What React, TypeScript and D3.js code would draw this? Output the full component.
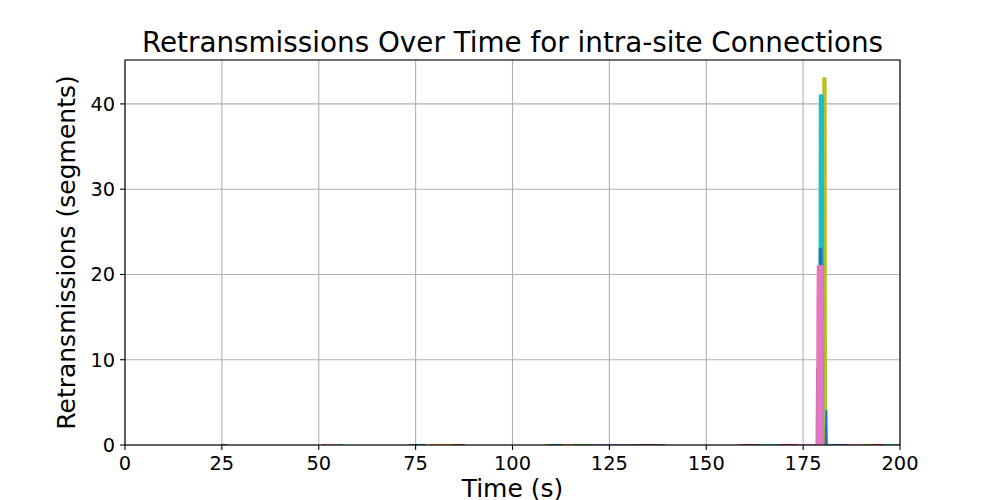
import React from "react";
import * as d3 from "d3";

// ---- data ----
const xTicks = [0, 25, 50, 75, 100, 125, 150, 175, 200];
const yTicks = [0, 10, 20, 30, 40];

// idle connections (zero retransmissions) : start time, end time, colour index
const idleStarts = [24.8, 51, 51.6, 54.6, 73.3, 78.7, 84.4, 108, 109, 113, 115.6, 120.5, 131, 139, 157.7, 159.2, 163.9, 169, 173.7, 181, 185.3, 187, 189.7, 191, 192.8, 196];
const idleEnds = [26.3, 53.7, 54.6, 56.2, 77.7, 84.4, 87.7, 109, 113, 115.6, 120.5, 131, 139, 139.5, 159.2, 163.9, 169, 173.7, 178.7, 185.3, 187, 189.7, 191, 192.8, 196, 200];
const idleColors = [0, 5, 6, 9, 0, 1, 5, 8, 0, 1, 2, 4, 5, 7, 6, 5, 9, 3, 6, 0, 5, 6, 1, 2, 3, 9];

// burst connections sampled every 0.1 s
const sampleStep = 0.1;
const oliveSpike = [0, 43, 0, 43, 6, 43, 0, 43, 0];
const cyanSpike = [0, 41, 0, 41, 12, 41, 0, 41, 3, 41, 0];
const blueSpike = [0, 23, 0, 23, 0, 23, 0];
const greenSpike = [0, 11, 0];
const brownSpike = [0, 9, 0];
const pinkSpike = [0, 17, 21, 0, 21, 3, 21, 0, 21, 8, 21, 0, 21, 5, 21, 0];
const redSpike = [0, 2, 0];
const blueTail = [0, 4, 0];
const spikeSeries = [oliveSpike, cyanSpike, blueSpike, greenSpike, brownSpike, pinkSpike, redSpike, blueTail];
const spikeStarts = [180.1, 179.2, 179.2, 179.9, 178.5, 178.6, 180.8, 180.9];
const spikeColors = [8, 9, 0, 2, 5, 6, 3, 0];

const W = 1000, H = 500;
const M = { left: 125, right: 900, top: 60, bottom: 445 };
const FONT = "DejaVu Sans, sans-serif";

export default function App() {
  const x = d3.scaleLinear().domain([0, 200]).range([M.left, M.right]);
  const y = d3.scaleLinear().domain([0, 45.15]).range([M.bottom, M.top]);
  const colors = d3.schemeCategory10;
  const line = d3.line<[number, number]>().x((d) => x(d[0])).y((d) => y(d[1]));

  const idlePaths = idleStarts.map((s, i) => ({
    d: line([[s, 0], [idleEnds[i], 0]]) as string,
    c: colors[idleColors[i]],
  }));
  const spikePaths = spikeSeries.map((vals, i) => ({
    d: line(vals.map((v, k) => [spikeStarts[i] + k * sampleStep, v] as [number, number])) as string,
    c: colors[spikeColors[i]],
  }));

  return (
    <svg width={W} height={H} style={{ position: "absolute", left: 0, top: 0, background: "#fff" }} fontFamily={FONT}>
      <defs>
        <clipPath id="plotclip">
          <rect x={M.left} y={M.top} width={M.right - M.left} height={M.bottom - M.top} />
        </clipPath>
      </defs>
      <rect width={W} height={H} fill="#fff" />
      {/* grid */}
      {xTicks.map((t) => (
        <line key={"gx" + t} x1={x(t)} x2={x(t)} y1={M.top} y2={M.bottom} stroke="#b0b0b0" strokeWidth={1.1} />
      ))}
      {yTicks.map((t) => (
        <line key={"gy" + t} x1={M.left} x2={M.right} y1={y(t)} y2={y(t)} stroke="#b0b0b0" strokeWidth={1.1} />
      ))}
      {/* series */}
      <g clipPath="url(#plotclip)" fill="none" strokeWidth={2.08} strokeLinejoin="round" strokeLinecap="butt">
        {idlePaths.map((p, i) => (
          <path key={"i" + i} d={p.d} stroke={p.c} />
        ))}
        {spikePaths.map((p, i) => (
          <path key={"s" + i} d={p.d} stroke={p.c} />
        ))}
      </g>
      {/* spines */}
      <rect x={M.left} y={M.top} width={M.right - M.left} height={M.bottom - M.top} fill="none" stroke="#000" strokeWidth={1.1} />
      {/* x ticks */}
      {xTicks.map((t) => (
        <g key={"xt" + t}>
          <line x1={x(t)} x2={x(t)} y1={M.bottom} y2={M.bottom + 4.9} stroke="#000" strokeWidth={1.1} />
          <text x={x(t)} y={M.bottom + 24.5} textAnchor="middle" fontSize={19.4} fill="#000">{t}</text>
        </g>
      ))}
      {/* y ticks */}
      {yTicks.map((t) => (
        <g key={"yt" + t}>
          <line x1={M.left - 4.9} x2={M.left} y1={y(t)} y2={y(t)} stroke="#000" strokeWidth={1.1} />
          <text x={M.left - 9.8} y={y(t)} dy="0.36em" textAnchor="end" fontSize={19.4} fill="#000">{t}</text>
        </g>
      ))}
      <text x={(M.left + M.right) / 2} y={52} textAnchor="middle" fontSize={27.8} fill="#000">
        Retransmissions Over Time for intra-site Connections
      </text>
      <text x={(M.left + M.right) / 2} y={497} textAnchor="middle" fontSize={25} fill="#000">Time (s)</text>
      <text transform={`translate(75, ${(M.top + M.bottom) / 2}) rotate(-90)`} textAnchor="middle" fontSize={25} fill="#000">
        Retransmissions (segments)
      </text>
    </svg>
  );
}
